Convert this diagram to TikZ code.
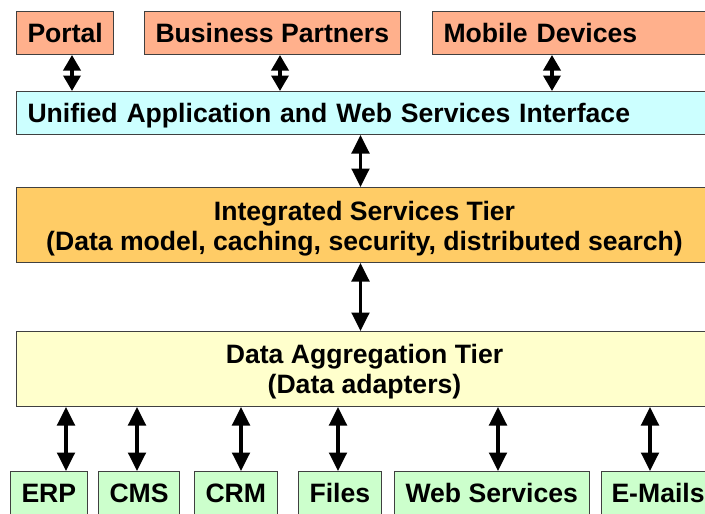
\documentclass[tikz,border=0pt]{standalone}
\usepackage{fontspec}
\setmainfont{Liberation Sans}
\usetikzlibrary{positioning,arrows.meta}

\definecolor{clientfill}{RGB}{255,176,140}
\definecolor{apifill}{RGB}{204,255,255}
\definecolor{servfill}{RGB}{255,204,102}
\definecolor{aggfill}{RGB}{255,255,204}
\definecolor{srcfill}{RGB}{204,255,204}

\begin{document}
\begin{tikzpicture}[
  x=1pt, y=-1pt,
  font=\fontsize{26.6}{30.5}\selectfont\bfseries,
  box/.style={draw=black!75, line width=1pt, anchor=north west, inner xsep=11pt, inner ysep=0pt,
    minimum height=43pt, text height=19pt, text depth=0pt},
  client/.style={box, fill=clientfill},
  source/.style={box, fill=srcfill},
  tier/.style={draw=black!75, line width=1pt, anchor=north west, inner sep=0pt, align=center,
    minimum width=696pt, minimum height=75pt},
  link/.style={{Triangle[length=18.5pt,width=17.5pt]}-{Triangle[length=18.5pt,width=17.5pt]}, line width=3.5pt},
  shortlink/.style={link, {Triangle[length=15.5pt,width=17pt]}-{Triangle[length=15.5pt,width=17pt]}}]
\useasboundingbox (0,0) rectangle (705,514);
\clip (0,0) rectangle (705,514);
% --- clients on top
\node[client] (portal) at (16,11) {Portal};
\node[client] (partners) at (144,11) {Business Partners};
\node[client, text width=266pt, align=left] (mobile) at (432,11) {Mobile Devices};
% --- interface and the two tiers
\node[box, fill=apifill, text width=682pt, align=left] (uai) at (16,91) {Unified Application and Web Services Interface};
\node[tier, fill=servfill] (ist) at (16,187) {\rule{0pt}{27pt}Integrated Services Tier\\(Data model, caching, security, distributed search)};
\node[tier, fill=aggfill] (dat) at (16,331) {\rule{0pt}{25pt}Data Aggregation Tier\\(Data adapters)};
% --- data sources at the bottom
\node[source] (erp) at (10,471) {ERP};
\node[source] (cms) at (98,471) {CMS};
\node[source] (crm) at (194,471) {CRM};
\node[source] (files) at (298,471) {Files};
\node[source] (web) at (394,471) {Web Services};
\node[source, inner xsep=10pt] (mail) at (601,471) {E-Mails};
\draw[shortlink] ([xshift=56pt]portal.south west) -- ([xshift=56pt]portal.south west |- uai.north);
\draw[shortlink] ([xshift=136pt]partners.south west) -- ([xshift=136pt]partners.south west |- uai.north);
\draw[shortlink] ([xshift=120pt]mobile.south west) -- ([xshift=120pt]mobile.south west |- uai.north);
\draw[link] ([xshift=-4pt]ist.north) -- ([xshift=-4pt]ist.north |- uai.south);
\draw[link] ([xshift=-4pt]ist.south) -- ([xshift=-4pt]ist.south |- dat.north);
\draw[link] ([xshift=56pt]erp.north west) -- ([xshift=56pt]erp.north west |- dat.south);
\draw[link] ([xshift=39pt]cms.north west) -- ([xshift=39pt]cms.north west |- dat.south);
\draw[link] ([xshift=47pt]crm.north west) -- ([xshift=47pt]crm.north west |- dat.south);
\draw[link] ([xshift=40pt]files.north west) -- ([xshift=40pt]files.north west |- dat.south);
\draw[link] ([xshift=104pt]web.north west) -- ([xshift=104pt]web.north west |- dat.south);
\draw[link] ([xshift=49pt]mail.north west) -- ([xshift=49pt]mail.north west |- dat.south);
\end{tikzpicture}
\end{document}
